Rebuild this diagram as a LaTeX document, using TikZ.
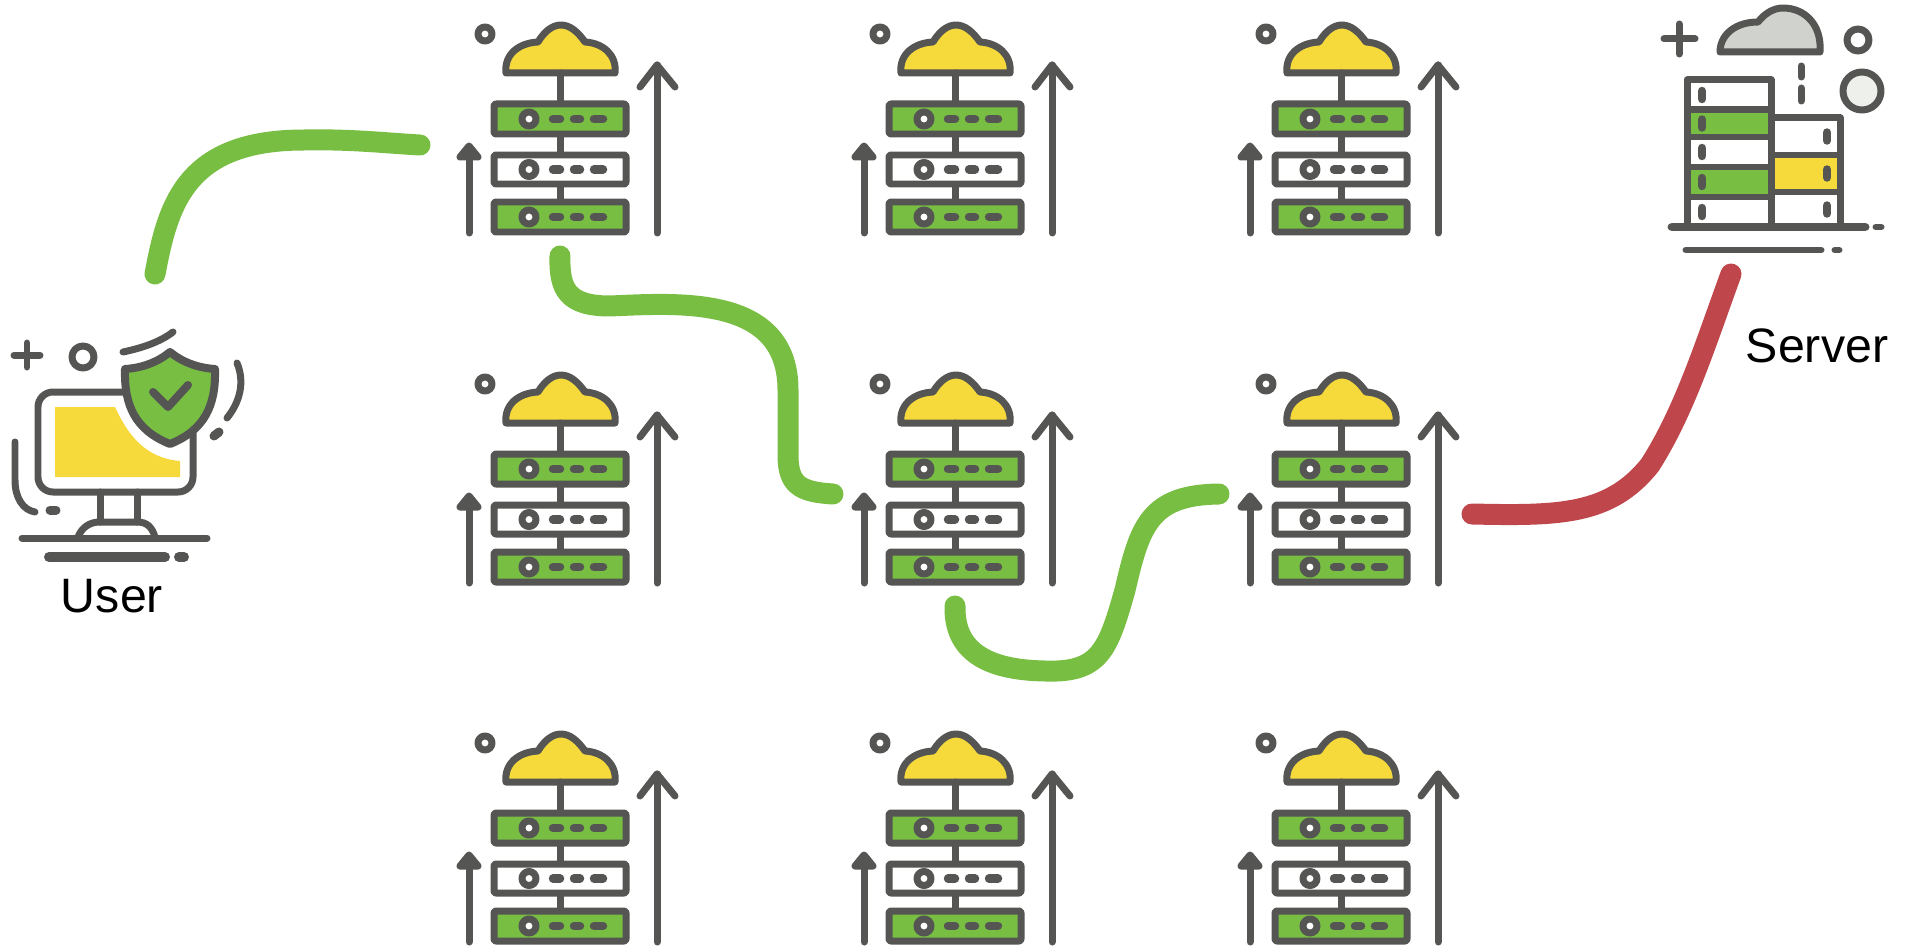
\documentclass[tikz,border=0pt]{standalone}
\usepackage{fontspec}
\setmainfont{Liberation Sans}
\definecolor{cInk}{HTML}{555553}
\definecolor{cGreen}{HTML}{78BE43}
\definecolor{cYellow}{HTML}{F6DA3C}
\definecolor{cRed}{HTML}{BF474B}
\definecolor{cCloud}{HTML}{D0D2CD}
\definecolor{cPale}{HTML}{EEF0EC}

\tikzset{
  ink/.style={draw=cInk, line width=0.14cm, line cap=round, line join=round},
  slab/.style={ink, fill=#1, rounded corners=0.04cm},
  led/.style={draw=cInk, line width=0.17cm, line cap=round},
  link/.style={draw=#1, line width=0.42cm, line cap=round, line join=round},
  caption/.style={font=\fontsize{27.5}{32}\selectfont, text=black, inner sep=0pt},
  relay/.pic={
    \coordinate (-south) at (120,256);
    \coordinate (-west) at (-2,144);
    \coordinate (-east) at (251,164);
    \draw[ink] (45,34) circle (7);
    \draw[ink, fill=cYellow] (66,73) .. controls (64,55) and (78,43) .. (98,42)
      .. controls (104,32) and (112,25) .. (121,25)
      .. controls (130,25) and (138,32) .. (145,42)
      .. controls (163,43) and (177,55) .. (175,73) -- cycle;
    \draw[ink] (120,73) -- (120,202);
    % three slabs
    \foreach \top/\bot/\shade in {104/134/cGreen, 155/184/white, 202/232/cGreen} {
      \draw[slab=\shade] (54,\top) rectangle (186,\bot);
      \draw[ink, fill=white] (89,{(\top+\bot)/2}) circle (7);
      \foreach \u/\v in {113/120, 134/140, 154/163}
        \draw[led] (\u,{(\top+\bot)/2}) -- (\v,{(\top+\bot)/2});
    }
    % arrows
    \draw[ink] (29,233) -- (29,150);
    \draw[ink, fill=cInk] (20,157) -- (29,146) -- (38,157) -- cycle;
    \draw[ink] (217,233) -- (217,65);
    \draw[ink] (200,87) -- (217,65) -- (235,87);
  },
}

\begin{document}
\begin{tikzpicture}[x=0.02cm, y=-0.02cm]
\useasboundingbox (0,0) rectangle (1908,946);

% relay grid
\foreach \cx/\c in {440/a, 835/b, 1221/c} {
  \foreach \cy/\r in {0/1, 350/2, 709/3} {
    \pic (\c\r) at (\cx,\cy) {relay};
  }
}

% user
\begin{scope}[shift={(0,310)}]
  \draw[ink] (14,45) -- (40,45) (27,33) -- (27,57);
  \draw[ink] (83,47) circle (11);
  \fill[cYellow] (55,97) -- (115,97) .. controls (128,125) and (145,148) .. (180,151)
    -- (180,167) -- (55,167) -- cycle;
  \draw[ink, rounded corners=0.3cm] (38,182) rectangle (193,82);
  \draw[ink] (100,182) -- (100,212) (137,182) -- (137,212);
  \draw[ink] (78,227) .. controls (82,217) and (90,212) .. (100,212) -- (137,212)
    .. controls (147,212) and (152,217) .. (155,227);
  \draw[ink] (22,228) -- (207,228);
  \draw[ink, line width=0.2cm] (49,247) -- (165,247);
  \draw[ink, line width=0.2cm] (179,247) -- (184,247);
  \draw[ink] (123,42) .. controls (142,38) and (160,32) .. (173,22);
  \draw[ink] (237,53) .. controls (245,72) and (240,92) .. (227,108);
  \draw[ink, line width=0.18cm] (214,126) -- (219,122);
  \draw[ink] (15,132) -- (15,170) .. controls (15,188) and (23,200) .. (35,202);
  \draw[ink, line width=0.18cm] (50,200) -- (56,200);
  \draw[ink, line width=0.16cm, fill=cGreen] (170,42) .. controls (182,52) and (198,58) .. (215,59)
    .. controls (216,95) and (205,120) .. (170,134)
    .. controls (135,120) and (124,95) .. (125,59)
    .. controls (142,58) and (158,52) .. (170,42) -- cycle;
  \draw[ink, line width=0.16cm] (153,82) -- (168,97) -- (188,75);
\end{scope}
\node[caption] (user) at (112,596) {User};

% server
\begin{scope}[shift={(1640,0)}]
  \draw[ink] (24,39) -- (55,39) (39,24) -- (39,54);
  \draw[ink, fill=cCloud] (80,52) .. controls (80,35) and (95,22) .. (118,22)
    .. controls (125,13) and (134,8) .. (143,8)
    .. controls (165,8) and (182,25) .. (180,52) -- cycle;
  \draw[ink] (218,40) circle (11);
  \draw[ink, fill=cPale] (222,91) circle (19);
  \draw[ink] (161,66) -- (161,77) (161,88) -- (161,101);
  % towers
  \foreach \top/\bot/\shade in {80/110/white, 110/137/cGreen, 137/167/white,
    167/197/cGreen, 197/227/white} {
    \draw[ink, fill=\shade] (47,\top) rectangle (131,\bot);
    \draw[led] (62,{(\top+\bot)/2-4}) -- (62,{(\top+\bot)/2+4});
  }
  \foreach \top/\bot/\shade in {118/155/white, 155/192/cYellow, 192/227/white} {
    \draw[ink, fill=\shade] (131,\top) rectangle (200,\bot);
    \draw[led] (187,{(\top+\bot)/2-4}) -- (187,{(\top+\bot)/2+4});
  }
  \draw[ink, line width=0.18cm] (32,227) -- (225,227);
  \draw[ink] (236,227) -- (241,227);
  \draw[ink] (46,250) -- (181,250);
  \draw[ink] (195,250) -- (199,250);
\end{scope}
\node[caption] (server) at (1817,346) {Server};

% free ends
\coordinate (userout) at (155,274);
\coordinate (gatein) at (420,145);
\coordinate (serverin) at (1731,274);

% route
\draw[link=cGreen] (userout) .. controls (168,205) and (185,140) .. (304,140)
  .. controls (350,139) and (385,143) .. (gatein);
\draw[link=cGreen] (a1-south) .. controls (559,290) and (568,306) .. (610,306)
  .. controls (680,303) and (788,295) .. (788,390)
  -- (788,455) .. controls (788,485) and (800,492) .. (b2-west);
\draw[link=cGreen] (b2-south) .. controls (954,650) and (985,670) .. (1045,671)
  .. controls (1100,673) and (1108,650) .. (1125,590)
  .. controls (1140,525) and (1150,495) .. (c2-west);
\draw[link=cRed] (c2-east) .. controls (1560,516) and (1610,515) .. (1650,465)
  .. controls (1685,410) and (1705,345) .. (serverin);

\end{tikzpicture}
\end{document}
